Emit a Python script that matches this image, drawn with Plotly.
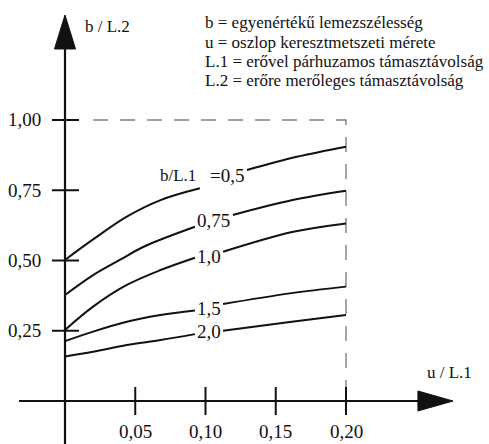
import plotly.graph_objects as go

# ---- axis ticks -------------------------------------------------------------
X_TICKS = [0.05, 0.10, 0.15, 0.20]
X_TICK_LABELS = ["0,05", "0,10", "0,15", "0,20"]
Y_TICKS = [0.25, 0.50, 0.75, 1.00]
Y_TICK_LABELS = ["0,25", "0,50", "0,75", "1,00"]

# ---- curves b/L.2 versus u/L.1, one per b/L.1 ratio ------------------------
# every curve is broken where its label sits, so it comes in a left and right piece
CURVE_LABELS = ["0,5", "0,75", "1,0", "1,5", "2,0"]

U_LEFT_05 = [0.000, 0.020, 0.044, 0.068, 0.096]
V_LEFT_05 = [0.502, 0.575, 0.656, 0.715, 0.757]
U_RIGHT_05 = [0.1295, 0.165, 0.200]
V_RIGHT_05 = [0.822, 0.869, 0.905]

U_LEFT_075 = [0.000, 0.020, 0.039, 0.056, 0.0925]
V_LEFT_075 = [0.377, 0.448, 0.502, 0.549, 0.620]
U_RIGHT_075 = [0.1195, 0.162, 0.200]
V_RIGHT_075 = [0.662, 0.715, 0.748]

U_LEFT_10 = [0.000, 0.020, 0.044, 0.068, 0.0925]
V_LEFT_10 = [0.253, 0.336, 0.413, 0.466, 0.510]
U_RIGHT_10 = [0.1125, 0.1625, 0.200]
V_RIGHT_10 = [0.531, 0.602, 0.632]

U_LEFT_15 = [0.000, 0.020, 0.044, 0.068, 0.0925]
V_LEFT_15 = [0.213, 0.247, 0.282, 0.306, 0.322]
U_RIGHT_15 = [0.1125, 0.160, 0.200]
V_RIGHT_15 = [0.345, 0.383, 0.407]

U_LEFT_20 = [0.000, 0.020, 0.044, 0.068, 0.0925]
V_LEFT_20 = [0.158, 0.175, 0.199, 0.217, 0.238]
U_RIGHT_20 = [0.1125, 0.160, 0.200]
V_RIGHT_20 = [0.250, 0.281, 0.306]

# ---- explanatory notes -----------------------------------------------------
NOTES = [
    "b = egyenértékű lemezszélesség",
    "u = oszlop keresztmetszeti mérete",
    "L.1 = erővel párhuzamos támasztávolság",
    "L.2 = erőre merőleges támasztávolság",
]
X_TITLE = "u / L.1"
Y_TITLE = "b / L.2"
RATIO_PREFIX = "b/L.1"

# ---- layout constants (data units) -----------------------------------------
X_RANGE = [-0.04626, 0.30178]
Y_RANGE = [-0.1530, 1.4270]
U_LIMIT = 0.20          # right edge of the valid region
V_LIMIT = 1.00          # top edge of the valid region

SERIF = "'Liberation Serif', 'Times New Roman', Times, 'DejaVu Serif', serif"
INK = "#111111"
DASH_GREY = "#808080"

fig = go.Figure()


def seg(xs, ys, width=2.0, color=INK, dash=None, shape="linear"):
    fig.add_trace(go.Scatter(
        x=xs, y=ys, mode="lines", hoverinfo="skip",
        line=dict(color=color, width=width, dash=dash, shape=shape, smoothing=1.0),
    ))


def tri(xs, ys):
    fig.add_trace(go.Scatter(
        x=xs, y=ys, mode="lines", fill="toself", fillcolor=INK, hoverinfo="skip",
        line=dict(color=INK, width=1),
    ))


# dashed frame of the valid region
seg([0.020, U_LIMIT, U_LIMIT], [V_LIMIT, V_LIMIT, 0.0],
    width=1.4, color=DASH_GREY, dash="15px,12px")

# axes
seg([0.0, 0.0], [Y_RANGE[0], 1.255], width=2.2)
tri([-0.0075, 0.0075, 0.0, -0.0075], [1.2527, 1.2527, 1.3737, 1.2527])
seg([-0.0327, 0.2515], [0.0, 0.0], width=2.2)
tri([0.2512, 0.2512, 0.2762, 0.2512], [-0.0356, 0.0356, 0.0, -0.0356])

# tick marks crossing the axes
for t in X_TICKS:
    seg([t, t], [-0.050, 0.050], width=2.0)
for t in Y_TICKS:
    seg([-0.0093, 0.0100], [t, t], width=2.0)

# curves
pieces = [
    (U_LEFT_05, V_LEFT_05, U_RIGHT_05, V_RIGHT_05),
    (U_LEFT_075, V_LEFT_075, U_RIGHT_075, V_RIGHT_075),
    (U_LEFT_10, V_LEFT_10, U_RIGHT_10, V_RIGHT_10),
    (U_LEFT_15, V_LEFT_15, U_RIGHT_15, V_RIGHT_15),
    (U_LEFT_20, V_LEFT_20, U_RIGHT_20, V_RIGHT_20),
]
for ul, vl, ur, vr in pieces:
    seg(ul, vl, width=2.0, shape="spline")
    seg(ur, vr, width=2.0, shape="spline")

annotations = []


def label(x, y, text, size, xanchor="center", yanchor="middle"):
    annotations.append(dict(
        x=x, y=y, xref="x", yref="y", text=text, showarrow=False,
        xanchor=xanchor, yanchor=yanchor,
        font=dict(family=SERIF, size=size, color=INK),
    ))


# tick labels
for t, s in zip(X_TICKS, X_TICK_LABELS):
    label(t, -0.109, s, 19)
for t, s in zip(Y_TICKS, Y_TICK_LABELS):
    label(-0.0157, t, s, 19, xanchor="right")

# axis titles
label(0.0128, 1.3315, Y_TITLE, 17, xanchor="left")
label(0.2562, 0.1000, X_TITLE, 17, xanchor="left")

# curve labels, placed in the gaps of their curves
label(0.0947, 0.804, RATIO_PREFIX, 17, xanchor="right")
label(0.1018, 0.804, "=" + CURVE_LABELS[0], 19, xanchor="left")
label(0.0925, 0.644, CURVE_LABELS[1], 19, xanchor="left")
label(0.0925, 0.5135, CURVE_LABELS[2], 19, xanchor="left")
label(0.0925, 0.330, CURVE_LABELS[3], 19, xanchor="left")
label(0.0925, 0.2466, CURVE_LABELS[4], 19, xanchor="left")

# explanatory notes
note_y = [1.346, 1.277, 1.207, 1.139]
for yy, s in zip(note_y, NOTES):
    label(0.0982, yy, s, 17, xanchor="left")

fig.update_layout(
    width=489, height=444,
    margin=dict(l=0, r=0, t=0, b=0),
    paper_bgcolor="white", plot_bgcolor="white",
    showlegend=False,
    xaxis=dict(range=X_RANGE, visible=False, fixedrange=True),
    yaxis=dict(range=Y_RANGE, visible=False, fixedrange=True),
    annotations=annotations,
)

fig.write_html("out.html")
